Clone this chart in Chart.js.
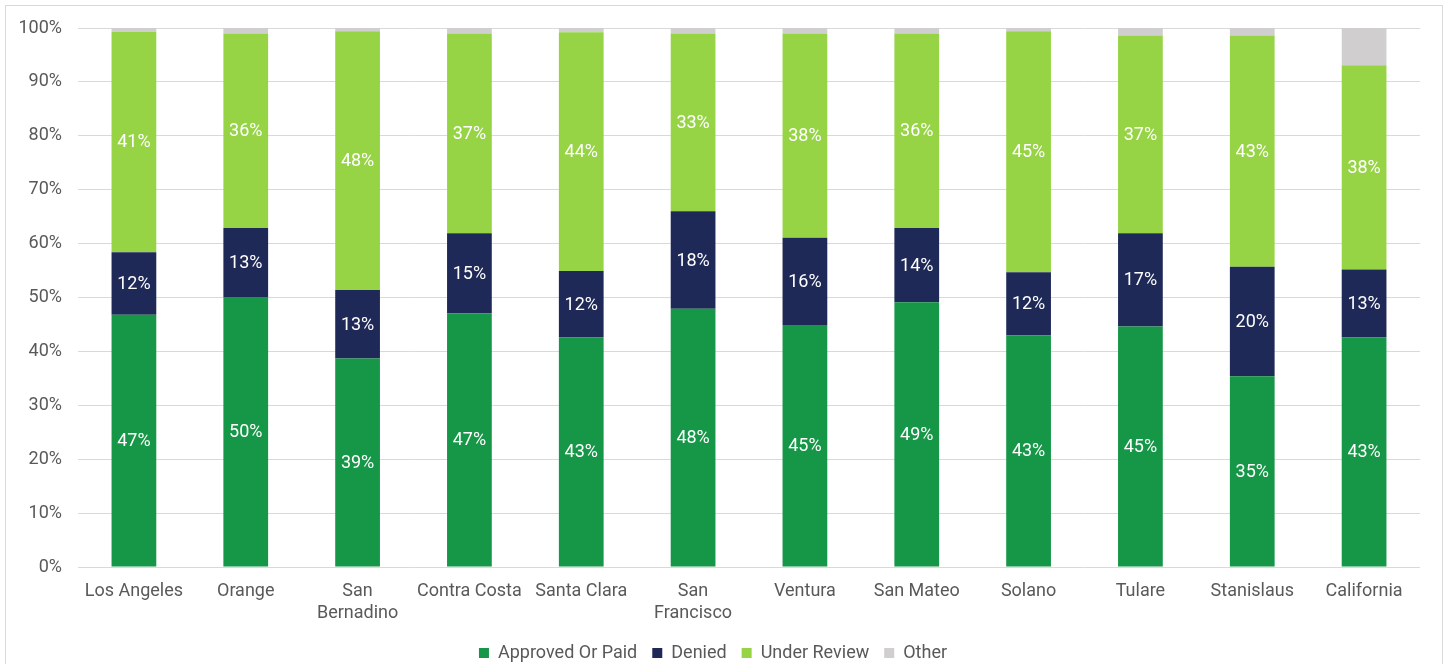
<!DOCTYPE html>
<html>
<head>
<meta charset="utf-8">
<script src="https://cdn.jsdelivr.net/npm/chart.js@4/dist/chart.umd.min.js"></script>
<style>
  body { margin: 0; background: #fff; width: 1445px; height: 664px; overflow: hidden; }
  #box { position: absolute; left: 5px; top: 5px; width: 1436px; height: 670px; border: 1px solid #d9d9d9; }
</style>
</head>
<body>
<div id="box"><canvas id="myChart"></canvas></div>
<script>
// counties, left to right
const counties = [
  'Los Angeles', 'Orange', ['San', 'Bernadino'], 'Contra Costa', 'Santa Clara',
  ['San', 'Francisco'], 'Ventura', 'San Mateo', 'Solano', 'Tulare', 'Stanislaus', 'California'
];

// share of claims, percent
const approvedOrPaid = [46.8, 50.1, 38.7, 47.1, 42.6, 47.9, 44.9, 49.1, 43.0, 44.6, 35.4, 42.6];
const denied         = [11.6, 12.8, 12.7, 14.8, 12.3, 18.1, 16.2, 13.8, 11.7, 17.3, 20.3, 12.6];
const underReview    = [40.9, 36.1, 48.0, 37.1, 44.3, 33.0, 37.9, 36.1, 44.7, 36.7, 42.9, 37.9];
const other          = [0.7, 1.0, 0.6, 1.0, 0.8, 1.0, 1.0, 1.0, 0.6, 1.4, 1.4, 6.9];

const yTicks = [0, 10, 20, 30, 40, 50, 60, 70, 80, 90, 100];

const font = 'Roboto';
const grey = '#595959';

// white % labels in the middle of each segment (not on "Other")
const segLabels = {
  id: 'segLabels',
  afterDatasetsDraw(chart) {
    const ctx = chart.ctx;
    ctx.save();
    ctx.fillStyle = '#ffffff';
    ctx.font = '18px ' + font;
    ctx.textAlign = 'center';
    ctx.textBaseline = 'middle';
    chart.data.datasets.forEach((ds, i) => {
      if (i > 2) return;
      chart.getDatasetMeta(i).data.forEach((bar, j) => {
        const y = (bar.y + bar.base) / 2;
        ctx.fillText(Math.round(ds.data[j]) + '%', bar.x, y + 1);
      });
    });
    ctx.restore();
  }
};

const ctx = document.getElementById('myChart');
new Chart(ctx, {
  type: 'bar',
  data: {
    labels: counties,
    datasets: [
      { label: 'Approved Or Paid', data: approvedOrPaid, backgroundColor: '#169647' },
      { label: 'Denied', data: denied, backgroundColor: '#1f2957' },
      { label: 'Under Review', data: underReview, backgroundColor: '#96d446' },
      { label: 'Other', data: other, backgroundColor: '#d0cecf' }
    ]
  },
  options: {
    responsive: true,
    maintainAspectRatio: false,
    animation: false,
    barPercentage: 0.4,
    categoryPercentage: 1.0,
    layout: { padding: { left: 0, right: 22, top: 22, bottom: 4 } },
    plugins: {
      legend: {
        position: 'bottom',
        labels: {
          boxWidth: 10, boxHeight: 10, padding: 15,
          color: grey, font: { family: font, size: 18 }
        }
      },
      tooltip: { enabled: false }
    },
    scales: {
      x: {
        stacked: true,
        grid: { display: false },
        border: { display: false },
        ticks: { color: grey, font: { family: font, size: 18 }, padding: 6, maxRotation: 0, autoSkip: false },
        afterFit(s) { s.height = 62; }
      },
      y: {
        stacked: true,
        min: 0, max: 100,
        afterBuildTicks(s) { s.ticks = yTicks.map(v => ({ value: v })); },
        grid: { color: '#d9d9d9', drawTicks: false },
        border: { display: false },
        ticks: { color: grey, font: { family: font, size: 18 }, padding: 16, callback: v => v + '%' },
        afterFit(s) { s.width = 72; s.paddingTop = 0; s.paddingBottom = 0; }
      }
    }
  },
  plugins: [segLabels]
});
</script>
</body>
</html>
